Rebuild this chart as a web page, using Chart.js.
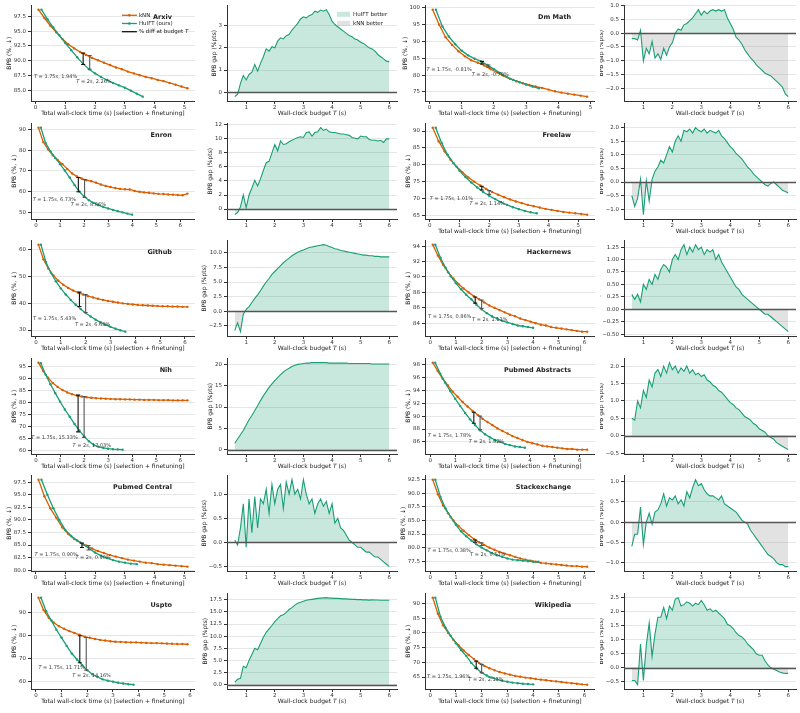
<!DOCTYPE html>
<html>
<head>
<meta charset="utf-8">
<title>BPB vs wall-clock time</title>
<script src="https://cdn.jsdelivr.net/npm/chart.js@4.4.1/dist/chart.umd.min.js"></script>
<style>
  html, body { margin: 0; padding: 0; background: #fff; }
  #fig { position: relative; width: 800px; height: 713px; overflow: hidden; }
  #fig canvas { position: absolute; }
</style>
</head>
<body>
<div id="fig"></div>
<script>
// --- shared time grids (s) ---
const knnT   = [0.1,0.3,0.5,0.7,0.9,1.1,1.3,1.5,1.7,1.9,2.1,2.3,2.5,2.7,2.9,3.1,3.3,3.5,3.7,3.9,4.1,4.3,4.5,4.7,4.9,5.1,5.3,5.5,5.7,5.9,6.1,6.3];
const huiftT = [0.2,0.4,0.6,0.8,1.0,1.2,1.4,1.6,1.8,2.0,2.2,2.4,2.6,2.8,3.0,3.2,3.4,3.6,3.8,4.0,4.2];
const gapT   = [0.6,0.7,0.8,0.9,1.0,1.1,1.2,1.3,1.4,1.5,1.6,1.7,1.8,1.9,2.0,2.1,2.2,2.3,2.4,2.5,2.6,2.7,2.8,2.9,3.0,3.1,3.2,3.3,3.4,3.5,3.6,3.7,3.8,3.9,4.0,4.1,4.2,4.3,4.4,4.5,4.6,4.7,4.8,4.9,5.0,5.1,5.2,5.3,5.4,5.5,5.6,5.7,5.8,5.9,6.0];
const curveXTicks = [0,1,2,3,4,5,6];
const gapXTicks = [1,2,3,4,5,6];

// --- Arxiv ---
const arxivKnn   = [98.6,97.2,95.9,94.8,93.7,92.8,92.1,91.5,91.0,90.5,90.1,89.7,89.3,88.9,88.6,88.2,87.9,87.6,87.3,87.1,86.8,86.6,86.3,86.0,85.7,85.4];
const arxivHuift = [98.6,97.0,95.6,94.3,93.0,91.8,90.6,89.5,88.6,87.9,87.3,86.8,86.3,85.9,85.5,85.0,84.5,84.0];
const arxivBars  = [[1.6,91.3,89.4],[1.82,90.9,88.6]];
const arxivNotes = ['1.75s, 1.94%','2s, 2.26%'];
const arxivTicks = [85,87.5,90,92.5,95,97.5];
const arxivGap   = [-0.2,-0.1,0.4,0.75,0.55,0.8,0.9,1.25,0.95,1.3,1.6,1.95,1.85,2.05,2.0,2.3,2.45,2.4,2.55,2.6,2.8,2.95,3.1,3.3,3.4,3.35,3.45,3.5,3.65,3.6,3.7,3.65,3.72,3.5,3.2,3.05,2.95,2.85,2.75,2.65,2.55,2.5,2.4,2.35,2.25,2.2,2.1,2.0,1.95,1.85,1.7,1.6,1.5,1.4,1.38];
const arxivGapTicks = [0,1,2,3];

// --- Dm Math ---
const dmKnn   = [99.5,95.0,91.3,89.0,87.1,85.6,84.4,83.7,82.9,81.8,80.8,79.8,78.9,78.2,77.6,77.1,76.6,76.2,75.7,75.2,74.8,74.5,74.2,73.9,73.6];
const dmHuift = [99.5,94.5,91.5,89.2,87.3,85.9,84.9,84.1,83.0,81.8,80.6,79.5,78.6,77.9,77.2,76.6,76.1];
const dmBars  = [[1.63,83.3,84.1],[1.83,82.4,83.0]];
const dmNotes = ['1.75s, -0.81%','2s, -0.78%'];
const dmTicks = [75,80,85,90,95,100];
const dmGap   = [-0.2,-0.2,-0.25,0.1,-1.0,-0.55,-0.75,-0.3,-0.9,-0.75,-0.95,-0.55,-0.8,-0.5,-0.35,0.0,0.15,0.1,0.3,0.35,0.45,0.55,0.7,0.85,0.65,0.8,0.7,0.8,0.85,0.8,0.85,0.8,0.85,0.55,0.35,0.15,-0.15,-0.25,-0.4,-0.6,-0.75,-0.9,-1.0,-1.15,-1.25,-1.35,-1.45,-1.5,-1.55,-1.65,-1.75,-1.85,-1.95,-2.2,-2.3];
const dmGapTicks = [-2,-1.5,-1,-0.5,0,0.5,1];

// --- Enron ---
const enronKnn   = [91.0,84.0,80.5,77.6,75.3,73.3,71.0,68.8,67.3,66.3,65.5,65.0,64.3,63.4,62.7,62.2,61.7,61.3,61.1,61.0,60.3,59.9,59.6,59.4,59.1,58.9,58.8,58.6,58.5,58.3,58.2,59.0];
const enronHuift = [91.0,83.5,79.5,76.3,73.3,70.2,66.8,63.2,60.0,57.6,55.8,54.5,53.4,52.5,51.8,51.1,50.5,49.9,49.3,48.8];
const enronBars  = [[1.76,66.8,59.9],[2.02,65.8,57.2]];
const enronNotes = ['1.75s, 6.73%','2s, 8.86%'];
const enronTicks = [50,60,70,80,90];
const enronGap   = [-0.8,-0.5,0.3,2.0,0.2,2.0,3.0,4.1,3.3,4.3,5.5,6.6,6.8,8.0,9.2,8.3,9.7,9.2,9.3,9.6,9.8,10.0,10.2,10.3,10.2,10.9,11.0,10.4,10.9,11.0,11.6,11.2,11.4,11.0,10.9,10.9,10.8,10.7,10.7,10.6,10.5,10.2,10.1,10.0,10.4,10.3,10.3,9.9,9.8,9.8,9.7,9.8,9.5,10.0,10.0];
const enronGapTicks = [0,2,4,6,8,10,12];

// --- Freelaw ---
const freelawKnn   = [91.0,87.0,84.0,81.5,79.5,77.8,76.3,75.0,73.9,72.9,72.0,71.2,70.5,69.8,69.2,68.7,68.2,67.8,67.4,67.0,66.7,66.4,66.1,65.9,65.7,65.5,65.3];
const freelawHuift = [91.0,86.5,83.0,80.5,78.3,76.4,74.8,73.3,72.0,70.9,69.9,69.0,68.2,67.5,66.9,66.4,66.0,65.7];
const freelawBars  = [[1.75,73.7,72.6],[2.0,72.4,71.3]];
const freelawNotes = ['1.75s, 1.01%','2s, 1.14%'];
const freelawTicks = [65,70,75,80,85,90];
const freelawGap   = [-0.5,-0.9,-0.6,0.1,-1.2,0.05,-0.7,0.1,0.4,0.55,0.8,0.7,1.0,1.3,1.1,1.5,1.7,1.5,1.9,1.85,1.95,1.8,2.0,1.9,1.85,1.95,1.8,1.9,1.85,1.8,1.9,1.7,1.6,1.45,1.3,1.2,1.05,0.95,0.85,0.7,0.55,0.45,0.3,0.2,0.1,0.0,-0.1,-0.15,-0.05,0.0,-0.1,-0.2,-0.3,-0.35,-0.4];
const freelawGapTicks = [-1,-0.5,0,0.5,1,1.5,2];

// --- Github ---
const githubKnn   = [62.0,56.5,53.0,50.5,48.5,47.0,45.8,44.8,44.0,43.3,42.7,42.2,41.7,41.3,40.9,40.6,40.3,40.0,39.8,39.6,39.4,39.3,39.2,39.1,39.0,38.9,38.9,38.8,38.8,38.7,38.7];
const githubHuift = [62.0,55.5,51.5,48.3,45.6,43.3,41.3,39.5,37.9,36.4,35.1,33.9,32.9,32.0,31.2,30.5,29.9,29.4];
const githubBars  = [[1.75,44.2,38.8],[2.0,43.3,36.6]];
const githubNotes = ['1.75s, 5.43%','2s, 6.68%'];
const githubTicks = [30,40,50,60];
const githubGap   = [-3.3,-2.0,-3.5,-0.5,0.3,0.8,1.5,2.2,2.8,3.5,4.3,5.0,5.6,6.3,6.8,7.3,7.8,8.3,8.7,9.1,9.5,9.8,10.1,10.3,10.5,10.7,10.9,11.0,11.1,11.2,11.3,11.4,11.3,11.1,10.9,10.7,10.6,10.4,10.3,10.2,10.1,10.0,9.9,9.8,9.7,9.6,9.6,9.5,9.5,9.4,9.4,9.3,9.3,9.3,9.3];
const githubGapTicks = [-2.5,0,2.5,5,7.5,10];

// --- Hackernews ---
const hnKnn   = [94.2,92.8,91.6,90.6,89.8,89.1,88.5,88.0,87.5,87.1,86.7,86.3,86.0,85.7,85.4,85.1,84.9,84.6,84.4,84.2,84.0,83.8,83.7,83.5,83.4,83.3,83.2,83.1,83.0,82.9,82.9];
const hnHuift = [94.2,92.5,91.2,90.1,89.2,88.4,87.7,87.1,86.4,85.8,85.3,84.9,84.6,84.3,84.1,83.9,83.7,83.6,83.5,83.4];
const hnBars  = [[1.75,87.4,86.6],[2.0,87.0,85.9]];
const hnNotes = ['1.75s, 0.86%','2s, 1.13%'];
const hnTicks = [84,86,88,90,92,94];
const hnGap   = [0.3,0.2,0.3,0.15,0.5,0.4,0.6,0.5,0.7,0.6,0.8,0.9,0.85,0.75,1.0,1.1,1.0,1.2,1.3,1.1,1.25,1.15,1.3,1.2,1.25,1.1,1.2,1.15,1.2,1.0,1.1,0.95,0.85,0.75,0.65,0.55,0.45,0.4,0.3,0.25,0.2,0.15,0.1,0.05,0.0,-0.05,-0.1,-0.1,-0.15,-0.2,-0.25,-0.3,-0.35,-0.4,-0.45];
const hnGapTicks = [-0.5,-0.25,0,0.25,0.5,0.75,1,1.25];

// --- Nih ---
const nihKnn   = [96.5,93.0,90.2,88.0,86.4,85.1,84.1,83.4,82.8,82.4,82.1,81.9,81.7,81.6,81.5,81.4,81.3,81.3,81.2,81.2,81.1,81.1,81.0,81.0,81.0,80.9,80.9,80.9,80.8,80.8,80.8,80.8];
const nihHuift = [96.3,91.5,87.5,83.8,80.3,77.0,74.0,71.0,68.3,65.8,63.8,62.3,61.5,61.0,60.7,60.5,60.4,60.3];
const nihBars  = [[1.75,83.0,67.7],[2.0,82.4,65.4]];
const nihNotes = ['1.75s, 15.33%','2s, 17.03%'];
const nihTicks = [60,65,70,75,80,85,90,95];
const nihGap   = [1.5,2.5,3.5,4.5,5.8,7.0,8.0,9.2,10.3,11.5,12.6,13.6,14.6,15.4,16.2,16.9,17.6,18.2,18.7,19.1,19.5,19.8,20.0,20.1,20.2,20.3,20.3,20.4,20.4,20.4,20.4,20.4,20.4,20.3,20.3,20.3,20.3,20.3,20.3,20.3,20.2,20.2,20.2,20.2,20.2,20.2,20.2,20.2,20.1,20.1,20.1,20.1,20.1,20.1,20.1];
const nihGapTicks = [0,5,10,15,20];

// --- Pubmed Abstracts ---
const pmaKnn   = [98.3,97.0,95.8,94.8,93.8,93.0,92.2,91.5,90.8,90.2,89.6,89.1,88.6,88.1,87.7,87.3,86.9,86.6,86.3,86.0,85.8,85.6,85.4,85.3,85.2,85.1,85.0,84.9,84.9,84.8,84.8,84.8];
const pmaHuift = [98.3,96.6,95.2,93.9,92.7,91.6,90.5,89.5,88.6,87.8,87.2,86.7,86.3,86.0,85.7,85.5,85.3,85.2,85.1];
const pmaBars  = [[1.75,90.6,88.9],[2.0,90.0,87.9]];
const pmaNotes = ['1.75s, 1.78%','2s, 1.92%'];
const pmaTicks = [84,86,88,90,92,94,96,98];
const pmaGap   = [0.5,0.45,1.0,0.8,1.3,1.1,1.6,1.4,1.8,1.9,1.7,2.0,1.8,2.1,1.9,2.0,1.8,1.95,1.85,2.0,1.8,1.9,1.75,1.8,1.7,1.75,1.6,1.55,1.45,1.4,1.3,1.25,1.15,1.05,0.95,0.9,0.8,0.75,0.65,0.55,0.5,0.45,0.35,0.3,0.2,0.15,0.1,0.0,-0.05,-0.1,-0.2,-0.25,-0.3,-0.35,-0.4];
const pmaGapTicks = [-0.5,0,0.5,1,1.5,2];

// --- Pubmed Central ---
const pmcKnn   = [98.0,94.7,92.3,90.4,88.5,87.2,86.2,85.5,84.9,84.3,83.8,83.4,83.0,82.7,82.4,82.1,81.9,81.7,81.5,81.4,81.2,81.1,81.0,80.9,80.8,80.7];
const pmcHuift = [98.0,95.0,92.3,90.0,88.0,86.8,85.9,85.1,84.3,83.5,82.9,82.4,82.0,81.7,81.5,81.3,81.2];
const pmcBars  = [[1.56,85.4,84.5],[1.78,84.9,84.0]];
const pmcNotes = ['1.75s, 0.90%','2s, 0.90%'];
const pmcTicks = [80,82.5,85,87.5,90,92.5,95,97.5];
const pmcGap   = [0.05,-0.05,0.3,0.8,-0.1,0.9,0.2,0.95,0.3,0.9,0.8,1.1,0.6,1.2,0.8,1.1,1.2,0.7,1.25,1.0,1.3,1.0,1.1,0.9,1.3,1.0,0.8,0.9,0.6,0.8,0.9,0.75,0.85,0.6,0.8,0.4,0.5,0.3,0.25,0.15,0.05,0.0,-0.05,-0.1,-0.1,-0.15,-0.2,-0.2,-0.25,-0.3,-0.3,-0.35,-0.4,-0.45,-0.5];
const pmcGapTicks = [-0.5,0,0.5,1];

// --- Stackexchange ---
const seKnn   = [92.5,89.8,87.8,86.3,85.0,84.0,83.1,82.3,81.6,81.0,80.5,80.0,79.6,79.2,78.9,78.6,78.3,78.0,77.8,77.6,77.4,77.2,77.1,77.0,76.9,76.8,76.7,76.6,76.6,76.5,76.5];
const seHuift = [92.5,89.3,87.2,85.6,84.2,83.0,82.1,81.3,80.6,80.0,79.5,79.0,78.6,78.3,78.0,77.8,77.7,77.6,77.5,77.4,77.4];
const seBars  = [[1.75,81.4,81.0],[2.0,80.9,80.4]];
const seNotes = ['1.75s, 0.38%','2s, 0.51%'];
const seTicks = [77.5,80,82.5,85,87.5,90,92.5];
const seGap   = [-0.6,-0.3,-0.3,0.37,-0.55,0.0,0.22,-0.05,0.25,0.3,0.45,0.7,0.4,0.6,0.55,0.65,0.45,0.55,0.4,0.75,0.6,0.85,1.05,0.9,0.95,0.8,0.7,0.65,0.65,0.6,0.55,0.65,0.45,0.4,0.35,0.3,0.25,0.15,0.05,0.0,-0.05,-0.2,-0.3,-0.4,-0.5,-0.6,-0.7,-0.8,-0.85,-0.9,-1.0,-1.05,-1.05,-1.1,-1.1];
const seGapTicks = [-1,-0.5,0,0.5,1];

// --- Uspto ---
const usptoKnn   = [96.4,91.0,87.7,85.5,84.0,82.9,81.9,81.1,80.3,79.5,79.0,78.5,78.1,77.8,77.5,77.3,77.2,77.1,77.0,77.0,76.9,76.8,76.7,76.7,76.6,76.5,76.4,76.3,76.3,76.2];
const usptoHuift = [96.4,90.5,86.5,82.5,79.0,75.5,72.2,69.6,67.2,64.9,63.2,62.0,61.0,60.4,60.0,59.5,59.2,58.9,58.7];
const usptoBars  = [[1.71,79.9,68.2],[1.96,79.1,65.0]];
const usptoNotes = ['1.75s, 11.71%','2s, 14.16%'];
const usptoTicks = [60,70,80,90];
const usptoGap   = [0.5,1.1,1.3,3.8,3.5,5.0,6.2,7.5,7.2,8.5,9.8,10.8,11.5,12.2,13.0,13.6,14.2,14.4,14.9,15.5,15.9,16.4,16.8,17.0,17.2,17.4,17.5,17.6,17.7,17.8,17.85,17.9,17.95,17.85,17.85,17.8,17.8,17.75,17.7,17.7,17.65,17.6,17.6,17.55,17.55,17.5,17.5,17.45,17.5,17.45,17.45,17.4,17.4,17.4,17.4];
const usptoGapTicks = [0,2.5,5,7.5,10,12.5,15,17.5];

// --- Wikipedia ---
const wikiKnn   = [92.0,86.5,82.6,80.0,77.7,75.8,74.0,72.5,71.1,69.8,68.8,68.0,67.3,66.7,66.2,65.8,65.4,65.1,64.8,64.6,64.3,64.1,63.9,63.7,63.5,63.3,63.1,62.9,62.7,62.5,62.4];
const wikiHuift = [92.0,85.5,81.8,79.0,76.5,74.2,72.2,69.8,67.9,66.5,65.5,64.8,64.2,63.7,63.4,63.1,62.9,62.7,62.6,62.5];
const wikiBars  = [[1.79,70.4,68.0],[2.0,69.3,66.5]];
const wikiNotes = ['1.75s, 1.96%','2s, 2.13%'];
const wikiTicks = [65,70,75,80,85,90];
const wikiGap   = [-0.45,-0.45,-0.6,0.85,-0.45,0.8,1.6,0.4,1.2,1.8,1.8,2.15,1.75,2.2,2.05,2.45,2.5,2.2,2.25,2.35,2.3,2.2,2.3,2.25,2.4,2.25,2.05,2.1,2.0,2.05,1.95,1.85,1.75,1.55,1.5,1.4,1.25,1.15,1.1,1.0,0.85,0.75,0.65,0.5,0.45,0.45,0.25,0.1,0.0,-0.05,-0.1,-0.15,-0.18,-0.2,-0.2];
const wikiGapTicks = [-0.5,0,0.5,1,1.5,2,2.5];

// --- panel list (grid order: left pair, right pair per row) ---
const panels = [
  {name:'Arxiv', knn:arxivKnn, huift:arxivHuift, bars:arxivBars, notes:arxivNotes, ticks:arxivTicks, dec:1, gap:arxivGap, gapTicks:arxivGapTicks, gapDec:0, notePos:[[-0.05,87.4],[1.37,86.5]], legend:true, xTitle:true},
  {name:'Dm Math', knn:dmKnn, huift:dmHuift, bars:dmBars, notes:dmNotes, ticks:dmTicks, dec:0, gap:dmGap, gapTicks:dmGapTicks, gapDec:1, notePos:[[-0.09,81.7],[1.31,80.1]], xTitle:true},
  {name:'Enron', knn:enronKnn, huift:enronHuift, bars:enronBars, notes:enronNotes, ticks:enronTicks, dec:0, gap:enronGap, gapTicks:enronGapTicks, gapDec:0, notePos:[[-0.14,56.1],[1.44,53.7]], xTitle:false},
  {name:'Freelaw', knn:freelawKnn, huift:freelawHuift, bars:freelawBars, notes:freelawNotes, ticks:freelawTicks, dec:0, gap:freelawGap, gapTicks:freelawGapTicks, gapDec:1, notePos:[[0.0,70.0],[1.34,68.6]], xTitle:true},
  {name:'Github', knn:githubKnn, huift:githubHuift, bars:githubBars, notes:githubNotes, ticks:githubTicks, dec:0, gap:githubGap, gapTicks:githubGapTicks, gapDec:1, notePos:[[-0.12,34.1],[1.57,31.9]], xTitle:true},
  {name:'Hackernews', knn:hnKnn, huift:hnHuift, bars:hnBars, notes:hnNotes, ticks:hnTicks, dec:0, gap:hnGap, gapTicks:hnGapTicks, gapDec:2, notePos:[[-0.08,84.9],[1.63,84.4]], xTitle:true},
  {name:'Nih', knn:nihKnn, huift:nihHuift, bars:nihBars, notes:nihNotes, ticks:nihTicks, dec:0, gap:nihGap, gapTicks:nihGapTicks, gapDec:0, notePos:[[-0.2,65.1],[1.52,61.9]], xTitle:true},
  {name:'Pubmed Abstracts', knn:pmaKnn, huift:pmaHuift, bars:pmaBars, notes:pmaNotes, ticks:pmaTicks, dec:0, gap:pmaGap, gapTicks:pmaGapTicks, gapDec:1, notePos:[[-0.1,87.0],[1.55,86.1]], xTitle:true},
  {name:'Pubmed Central', knn:pmcKnn, huift:pmcHuift, bars:pmcBars, notes:pmcNotes, ticks:pmcTicks, dec:1, gap:pmcGap, gapTicks:pmcGapTicks, gapDec:1, notePos:[[-0.03,83.0],[1.34,82.5]], xTitle:true},
  {name:'Stackexchange', knn:seKnn, huift:seHuift, bars:seBars, notes:seNotes, ticks:seTicks, dec:1, gap:seGap, gapTicks:seGapTicks, gapDec:1, notePos:[[-0.1,79.4],[1.55,78.7]], xTitle:true},
  {name:'Uspto', knn:usptoKnn, huift:usptoHuift, bars:usptoBars, notes:usptoNotes, ticks:usptoTicks, dec:0, gap:usptoGap, gapTicks:usptoGapTicks, gapDec:1, notePos:[[0.1,66.0],[1.42,62.6]], xTitle:true},
  {name:'Wikipedia', knn:wikiKnn, huift:wikiHuift, bars:wikiBars, notes:wikiNotes, ticks:wikiTicks, dec:0, gap:wikiGap, gapTicks:wikiGapTicks, gapDec:1, notePos:[[-0.12,65.0],[1.48,64.0]], xTitle:true}
];

// --- look & layout ---
const ORANGE = '#d95f02', GREEN = '#1b9e77';
const FONT = '"DejaVu Sans", Verdana, sans-serif';
const COL_LEFT = [0, 200, 400, 600];
const Y_W = [31, 27, 25, 24];
const PAD_R = [3, 3, 3, 4];
const ROW_H = 117.6, CV_W = 200, CV_H = 118;
const TICK_PX = 5.5;

Chart.defaults.font.family = FONT;
Chart.defaults.color = '#333';

function fmt(v, d) { return v.toFixed(d).replace('-', '\u2212'); }

function padRange(vals) {
  const lo = Math.min(...vals), hi = Math.max(...vals), m = (hi - lo) * 0.05;
  return [lo - m, hi + m];
}

function makeCanvas(col, row) {
  const c = document.createElement('canvas');
  c.width = CV_W; c.height = CV_H;
  c.style.left = COL_LEFT[col] + 'px';
  c.style.top = Math.round(row * ROW_H) + 'px';
  document.getElementById('fig').appendChild(c);
  return c;
}

// draw text made of [string, italic] parts
function richText(ctx, x, y, parts, size, bold, align) {
  const fonts = parts.map(p => (p[1] ? 'italic ' : '') + (bold ? 'bold ' : '') + size + 'px ' + FONT);
  let w = 0;
  const ws = parts.map((p, i) => { ctx.font = fonts[i]; const m = ctx.measureText(p[0]).width; w += m; return m; });
  let cx = align === 'center' ? x - w / 2 : align === 'right' ? x - w : x;
  ctx.textAlign = 'left';
  parts.forEach((p, i) => { ctx.font = fonts[i]; ctx.fillText(p[0], cx, y); cx += ws[i]; });
}

const decor = {
  id: 'decor',
  afterDatasetsDraw(chart, args, o) {
    const {ctx, chartArea: a, scales: {x, y}} = chart;
    ctx.save();
    ctx.textBaseline = 'middle';
    if (o.zero) {
      const y0 = Math.round(y.getPixelForValue(0)) + 0.5;
      ctx.strokeStyle = '#555'; ctx.lineWidth = 1.3;
      ctx.beginPath(); ctx.moveTo(a.left, y0); ctx.lineTo(a.right, y0); ctx.stroke();
    }
    if (o.notes) {
      ctx.fillStyle = '#3a3a3a';
      o.notes.forEach((n, i) => {
        const p = o.notePos[i];
        richText(ctx, x.getPixelForValue(p[0]), y.getPixelForValue(p[1]), [['T', true], [' = ' + n, false]], 5, false, 'left');
      });
    }
    ctx.restore();
  },
  afterDraw(chart, args, o) {
    const {ctx, chartArea: a, scales: {y}} = chart;
    ctx.save();
    ctx.textBaseline = 'middle';
    ctx.fillStyle = '#222';
    // panel name
    if (o.title) richText(ctx, a.left + 0.86 * (a.right - a.left), a.top + 12, [[o.title, false]], 6.5, true, 'right');
    // y axis title, left of the widest tick label
    ctx.font = TICK_PX + 'px ' + FONT;
    const maxW = Math.max(...y.ticks.map(t => ctx.measureText(fmt(t.value, o.dec)).width));
    ctx.save();
    ctx.translate(a.left - maxW - 9.5, (a.top + a.bottom) / 2);
    ctx.rotate(-Math.PI / 2);
    richText(ctx, 0, 0, o.yTitle, 6, false, 'center');
    ctx.restore();
    if (o.xTitle) richText(ctx, (a.left + a.right) / 2, a.bottom + 12, o.xTitle, 6, false, 'center');
    // legends (first row only)
    if (o.curveLegend) {
      const lx = a.right - 73, items = [
        [[['kNN', false]], ORANGE, true],
        [[['HuIFT (ours)', false]], GREEN, true],
        [[['% diff at budget ', false], ['T', true]], '#111', false]
      ];
      items.forEach((it, i) => {
        const ly = a.top + 10 + i * 8.2;
        ctx.strokeStyle = it[1]; ctx.lineWidth = 1.3;
        ctx.beginPath(); ctx.moveTo(lx, ly); ctx.lineTo(lx + 15, ly); ctx.stroke();
        if (it[2]) { ctx.fillStyle = it[1]; ctx.beginPath(); ctx.arc(lx + 7.5, ly, 1.3, 0, 2 * Math.PI); ctx.fill(); }
        ctx.fillStyle = '#222';
        richText(ctx, lx + 17, ly, it[0], 5.5, false, 'left');
      });
    }
    if (o.gapLegend) {
      const lx = a.right - 60;
      [['HuIFT better', 'rgba(27,158,119,0.24)'], ['kNN better', 'rgba(150,150,150,0.28)']].forEach((it, i) => {
        const ly = a.top + 9 + i * 9;
        ctx.fillStyle = it[1]; ctx.fillRect(lx, ly - 2.5, 13, 5);
        ctx.fillStyle = '#222';
        richText(ctx, lx + 16, ly, [[it[0], false]], 5.5, false, 'left');
      });
    }
    ctx.restore();
  }
};

function axisOpts(col, kind, min, max, ticks, dec) {
  const common = {
    type: 'linear', min, max,
    border: {color: '#333', width: 1},
    ticks: {font: {size: TICK_PX}, color: '#333', callback: v => fmt(v, dec)},
    afterBuildTicks: s => { s.ticks = ticks.filter(v => v >= s.min - 1e-9 && v <= s.max + 1e-9).map(v => ({value: v})); }
  };
  if (kind === 'x') {
    common.ticks.padding = 0.5; common.ticks.maxRotation = 0; common.ticks.autoSkip = false;
    common.grid = {drawOnChartArea: false, tickLength: 3, tickColor: '#333'};
    common.afterFit = s => { s.height = 17; };
  } else {
    common.ticks.padding = 2; common.ticks.autoSkip = false;
    common.grid = {color: '#e6e6e6', lineWidth: 1, tickLength: 3, tickColor: '#333'};
    common.afterFit = s => { s.width = Y_W[col]; };
  }
  return common;
}

function baseOpts(col) {
  return {
    animation: false, responsive: false, devicePixelRatio: 1,
    layout: {padding: {left: 0, right: PAD_R[col], top: 5, bottom: 0}},
    events: []
  };
}

function curveChart(p, col, row) {
  const knnPts = p.knn.map((v, j) => ({x: knnT[j], y: v}));
  const huPts = p.huift.map((v, j) => ({x: huiftT[j], y: v}));
  const all = knnPts.concat(huPts);
  const xr = padRange(all.map(d => d.x));
  const yr = padRange(all.map(d => d.y).concat(p.bars.flatMap(b => [b[1], b[2]])));
  const line = (data, color, order) => ({data, borderColor: color, backgroundColor: color, borderWidth: 1.3,
    pointRadius: 1.2, pointBorderWidth: 0, pointHoverRadius: 0, showLine: true, order});
  const barSets = p.bars.map((b, k) => ({
    data: [{x: b[0], y: b[1]}, {x: b[0], y: b[2]}],
    borderColor: k ? '#555' : '#111', borderWidth: 1.1, pointStyle: 'line', pointRadius: 2,
    pointBorderWidth: 1.1, pointBorderColor: k ? '#555' : '#111', showLine: true, order: 0
  }));
  const opts = baseOpts(col);
  opts.scales = {x: axisOpts(col, 'x', xr[0], xr[1], curveXTicks, 0), y: axisOpts(col, 'y', yr[0], yr[1], p.ticks, p.dec)};
  opts.plugins = {legend: {display: false}, tooltip: {enabled: false},
    decor: {title: p.name, dec: p.dec, notes: p.notes, notePos: p.notePos,
      yTitle: [['BPB (%, \u2193)', false]],
      xTitle: p.xTitle ? [['Total wall-clock time (s) [selection + finetuning]', false]] : null,
      curveLegend: !!p.legend}};
  new Chart(makeCanvas(col, row), {
    type: 'scatter',
    data: {datasets: [line(knnPts, ORANGE, 2), line(huPts, GREEN, 1)].concat(barSets)},
    options: opts, plugins: [decor]
  });
}

function gapChart(p, col, row) {
  const pts = p.gap.map((v, j) => ({x: gapT[j], y: v}));
  const xr = padRange(pts.map(d => d.x));
  const yr = padRange(pts.map(d => d.y).concat([0]));
  const opts = baseOpts(col);
  opts.scales = {x: axisOpts(col, 'x', xr[0], xr[1], gapXTicks, 0), y: axisOpts(col, 'y', yr[0], yr[1], p.gapTicks, p.gapDec)};
  opts.plugins = {legend: {display: false}, tooltip: {enabled: false},
    decor: {zero: true, dec: p.gapDec, yTitle: [['BPB gap (%pts)', false]],
      xTitle: p.xTitle ? [['Wall-clock budget ', false], ['T', true], [' (s)', false]] : null,
      gapLegend: !!p.legend}};
  new Chart(makeCanvas(col, row), {
    type: 'scatter',
    data: {datasets: [{
      data: pts, borderColor: GREEN, borderWidth: 1.1, pointRadius: 0, showLine: true,
      fill: {target: {value: 0}, above: 'rgba(27,158,119,0.24)', below: 'rgba(150,150,150,0.28)'}
    }]},
    options: opts, plugins: [decor]
  });
}

panels.forEach((p, i) => {
  const row = Math.floor(i / 2), pair = i % 2;
  curveChart(p, pair * 2, row);
  gapChart(p, pair * 2 + 1, row);
});
</script>
</body>
</html>
